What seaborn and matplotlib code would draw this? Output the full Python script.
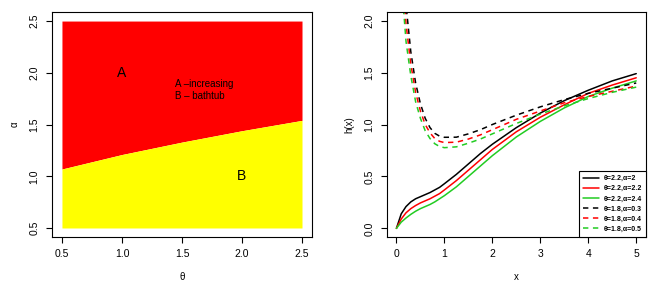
import numpy as np
import matplotlib
matplotlib.use('Agg')
import matplotlib.pyplot as plt
import seaborn as sns

# ---- left panel: region boundary between "increasing" (A) and "bathtub" (B)
theta = [0.5, 1.0, 1.5, 2.0, 2.5]
alpha_boundary = [1.07, 1.21, 1.33, 1.44, 1.54]
alpha_min, alpha_max = 0.5, 2.5

# ---- right panel: hazard rate curves
x_inc = [0, 0.1, 0.2, 0.3, 0.4, 0.5, 0.6, 0.7, 0.8, 0.9, 1.0, 1.25, 1.5, 1.75,
         2.0, 2.5, 3.0, 3.5, 4.0, 4.5, 5.0]
h_a2 = [0, 0.14, 0.21, 0.255, 0.285, 0.305, 0.325, 0.345, 0.37, 0.395, 0.43,
        0.52, 0.62, 0.72, 0.81, 0.97, 1.11, 1.23, 1.33, 1.42, 1.49]
h_a22 = [0, 0.09, 0.15, 0.19, 0.22, 0.245, 0.265, 0.285, 0.31, 0.335, 0.37,
         0.46, 0.56, 0.66, 0.76, 0.93, 1.07, 1.19, 1.30, 1.38, 1.45]
h_a24 = [0, 0.06, 0.10, 0.135, 0.165, 0.19, 0.21, 0.23, 0.255, 0.285, 0.315,
         0.40, 0.50, 0.60, 0.70, 0.88, 1.03, 1.16, 1.27, 1.35, 1.42]

x_bath = [0.1, 0.15, 0.2, 0.3, 0.4, 0.5, 0.6, 0.7, 0.8, 0.9, 1.0, 1.25, 1.5,
          1.75, 2.0, 2.5, 3.0, 3.5, 4.0, 4.5, 5.0]
h_a03 = [3.5, 2.6, 2.15, 1.7, 1.4, 1.2, 1.06, 0.97, 0.915, 0.888, 0.877,
         0.878, 0.91, 0.95, 1.0, 1.09, 1.17, 1.24, 1.30, 1.35, 1.40]
h_a04 = [3.0, 2.3, 1.97, 1.58, 1.31, 1.13, 1.0, 0.92, 0.865, 0.838, 0.826,
         0.83, 0.86, 0.90, 0.95, 1.05, 1.13, 1.21, 1.27, 1.32, 1.37]
h_a05 = [2.6, 2.1, 1.8, 1.47, 1.22, 1.06, 0.94, 0.865, 0.815, 0.788, 0.777,
         0.785, 0.82, 0.86, 0.91, 1.01, 1.10, 1.18, 1.25, 1.31, 1.36]

curves = [
    (x_inc, h_a2, 'θ=2.2,α=2', 'black', '-'),
    (x_inc, h_a22, 'θ=2.2,α=2.2', 'red', '-'),
    (x_inc, h_a24, 'θ=2.2,α=2.4', '#22CC22', '-'),
    (x_bath, h_a03, 'θ=1.8,α=0.3', 'black', '--'),
    (x_bath, h_a04, 'θ=1.8,α=0.4', 'red', '--'),
    (x_bath, h_a05, 'θ=1.8,α=0.5', '#22CC22', '--'),
]

sns.set_style('white')
plt.rcParams['font.family'] = ['Liberation Sans', 'DejaVu Sans']
plt.rcParams['text.color'] = 'black'
plt.rcParams['axes.labelcolor'] = 'black'
plt.rcParams['xtick.color'] = 'black'
plt.rcParams['ytick.color'] = 'black'

fig = plt.figure(figsize=(6.59, 2.91), dpi=100)
ax1 = fig.add_axes([0.0789, 0.1856, 0.3945, 0.773])
ax2 = fig.add_axes([0.587, 0.1856, 0.393, 0.773])

# left panel
ax1.fill_between(theta, alpha_boundary, alpha_max, color='#FF0000', lw=0)
ax1.fill_between(theta, alpha_min, alpha_boundary, color='#FFFF00', lw=0)
ax1.text(1.0, 2.0, 'A', fontsize=10, ha='center', va='center')
ax1.text(2.0, 1.0, 'B', fontsize=10, ha='center', va='center')
ax1.text(1.44, 1.89, 'A \u2013increasing', fontsize=7, ha='left', va='center')
ax1.text(1.44, 1.78, 'B \u2013 bathtub', fontsize=7, ha='left', va='center')
ax1.set_xlim(0.417, 2.583)
ax1.set_ylim(0.413, 2.587)
ax1.set_xticks([0.5, 1.0, 1.5, 2.0, 2.5])
ax1.set_yticks([0.5, 1.0, 1.5, 2.0, 2.5])
ax1.set_xlabel('θ', fontsize=7, labelpad=9)
ax1.set_ylabel('α', fontsize=7, labelpad=7)

# right panel
for xs, hs, lab, col, ls in curves:
    sns.lineplot(x=xs, y=hs, ax=ax2, color=col, linestyle=ls, lw=1.1, label=lab)
for line in ax2.get_lines():
    if line.get_linestyle() == '--':
        line.set_dashes((3.5, 3))
ax2.set_xlim(-0.2, 5.2)
ax2.set_ylim(-0.083, 2.083)
ax2.set_xticks([0, 1, 2, 3, 4, 5])
ax2.set_yticks([0.0, 0.5, 1.0, 1.5, 2.0])
ax2.set_xlabel('x', fontsize=7, labelpad=9)
ax2.set_ylabel('h(x)', fontsize=7, labelpad=7)
leg = ax2.legend(loc='lower right', fontsize=5, borderaxespad=0,
                 handlelength=2.3, handletextpad=0.6, fancybox=False,
                 framealpha=1, labelspacing=0.45, borderpad=0.6)
leg.get_frame().set_edgecolor('black')
leg.get_frame().set_linewidth(0.8)
for t in leg.get_texts():
    t.set_fontweight('bold')

for ax in (ax1, ax2):
    for sp in ax.spines.values():
        sp.set_visible(True)
        sp.set_color('black')
        sp.set_linewidth(0.8)
    ax.tick_params(axis='both', direction='out', length=4, width=0.8,
                   labelsize=7.5, bottom=True, left=True, pad=5,
                   colors='black')
    ax.yaxis.set_major_formatter(matplotlib.ticker.FormatStrFormatter('%.1f'))
    for t in ax.get_yticklabels():
        t.set_rotation(90)
        t.set_va('center')
ax2.xaxis.set_major_formatter(matplotlib.ticker.FormatStrFormatter('%d'))

fig.savefig('out.png', dpi=100)
